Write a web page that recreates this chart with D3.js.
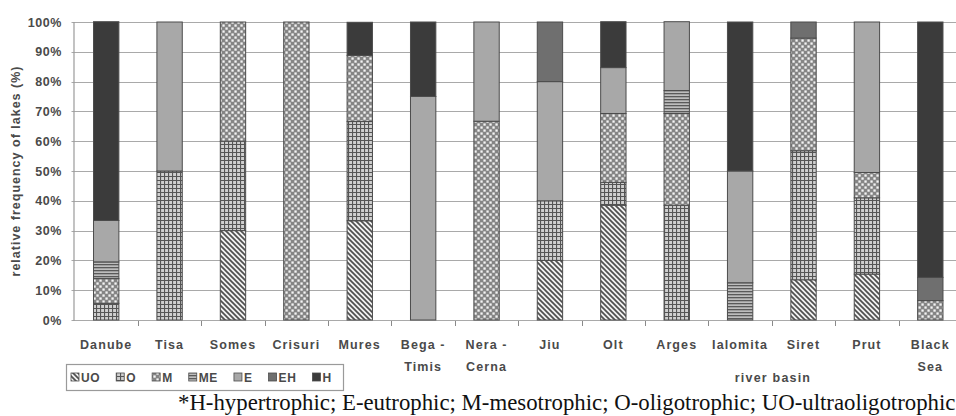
<!DOCTYPE html>
<html><head><meta charset="utf-8">
<script src="https://cdn.jsdelivr.net/npm/d3@7"></script>
<style>
html,body{margin:0;padding:0;background:#fff;}
svg{display:block;}
</style></head>
<body>
<svg id="chart" width="956" height="416"></svg>
<script>
const categories = ["Danube","Tisa","Somes","Crisuri","Mures","Bega -\nTimis","Nera -\nCerna","Jiu","Olt","Arges","Ialomita","Siret","Prut","Black\nSea"];
const classKeys = ["UO","O","M","ME","E","EH","H"];
const UO = [0,0,30,0,33.3,0,0,20,38.5,0,0,13.5,15.4,0];
const O  = [5.6,50,30,0,33.3,0,0,20,7.7,38.5,0,43.3,25.6,0];
const M  = [8.3,0,40,100,22.2,0,66.7,0,23.1,30.8,0,37.8,8.5,6.5];
const ME = [5.6,0,0,0,0,0,0,0,0,7.7,12.5,0,0,0];
const E  = [13.9,50,0,0,0,75,33.3,40,15.4,23.1,37.5,0,50.5,0];
const EH = [0,0,0,0,0,0,0,20,0,0,0,5.4,0,7.8];
const H  = [66.7,0,0,0,11.1,25,0,0,15.4,0,50,0,0,85.7];
const yTicks = [0,10,20,30,40,50,60,70,80,90,100];
const yTitle = "relative frequency of lakes (%)";
const xTitle = "river basin";
const footnote = "*H-hypertrophic; E-eutrophic; M-mesotrophic; O-oligotrophic; UO-ultraoligotrophic";

const seriesMap = {UO, O, M, ME, E, EH, H};
const rows = categories.map((c, i) => {
  const r = {cat: c};
  classKeys.forEach(k => r[k] = seriesMap[k][i]);
  return r;
});

const svg = d3.select("#chart");
const pL = 74.5, pR = 962, pT = 22, pB = 320;
const x = d3.scaleBand().domain(categories).range([pL, pR]).paddingInner(0.6).paddingOuter(0.3);
const y = d3.scaleLinear().domain([0, 100]).range([pB, pT]);

const textCol = "#4a4a4a";
const font = "'Liberation Sans', Arial, sans-serif";

// patterns
const defs = svg.append("defs");
const pUO = defs.append("pattern").attr("id","pUO").attr("patternUnits","userSpaceOnUse").attr("width",5).attr("height",5);
pUO.append("rect").attr("width",5).attr("height",5).attr("fill","#f2f2f2");
pUO.append("path").attr("d","M-1,-1 L6,6 M-1,4 L1,6 M4,-1 L6,1").attr("stroke","#505050").attr("stroke-width",1.7);
const pO = defs.append("pattern").attr("id","pO").attr("patternUnits","userSpaceOnUse").attr("width",4).attr("height",4);
pO.append("rect").attr("width",4).attr("height",4).attr("fill","#cfcfcf");
pO.append("path").attr("d","M0,0.5 H4 M0.5,0 V4").attr("stroke","#555").attr("stroke-width",1.2);
const pM = defs.append("pattern").attr("id","pM").attr("patternUnits","userSpaceOnUse").attr("width",6).attr("height",6);
pM.append("rect").attr("width",6).attr("height",6).attr("fill","#858585");
pM.append("rect").attr("x",0.4).attr("y",0.4).attr("width",2.3).attr("height",2.3).attr("fill","#f4f4f4");
pM.append("rect").attr("x",3.4).attr("y",3.4).attr("width",2.3).attr("height",2.3).attr("fill","#f4f4f4");
const pME = defs.append("pattern").attr("id","pME").attr("patternUnits","userSpaceOnUse").attr("width",4).attr("height",3);
pME.append("rect").attr("width",4).attr("height",3).attr("fill","#bdbdbd");
pME.append("rect").attr("y",0).attr("width",4).attr("height",1.3).attr("fill","#5a5a5a");

const fills = {UO:"url(#pUO)", O:"url(#pO)", M:"url(#pM)", ME:"url(#pME)", E:"#a8a8a8", EH:"#6f6f6f", H:"#3b3b3b"};

// gridlines
svg.append("g").selectAll("line").data(yTicks).join("line")
  .attr("x1", pL - 3).attr("x2", 956)
  .attr("y1", d => Math.round(y(d)) + 0.5).attr("y2", d => Math.round(y(d)) + 0.5)
  .attr("stroke", "#a9a9a9").attr("stroke-width", 1.2);

// y axis line
svg.append("line").attr("x1", pL - 0.5).attr("x2", pL - 0.5).attr("y1", pT).attr("y2", pB + 1)
  .attr("stroke", "#9a9a9a").attr("stroke-width", 1.2);

// y tick labels
svg.append("g").selectAll("text").data(yTicks).join("text")
  .attr("x", 62).attr("y", d => y(d) + 4.5)
  .attr("text-anchor", "end")
  .attr("font-family", font).attr("font-weight", "bold").attr("font-size", 12.5)
  .attr("letter-spacing", 0.6)
  .attr("fill", textCol)
  .text(d => d + "%");

// x ticks at band boundaries
const step = x.step();
svg.append("g").selectAll("line").data(categories.slice(1)).join("line")
  .attr("x1", c => Math.round(x(c) + x.bandwidth()/2 - step/2) + 0.5)
  .attr("x2", c => Math.round(x(c) + x.bandwidth()/2 - step/2) + 0.5)
  .attr("y1", pB + 1).attr("y2", pB + 6)
  .attr("stroke", "#8a8a8a").attr("stroke-width", 1);

// stacked bars
const stack = d3.stack().keys(classKeys)(rows);
const gBars = svg.append("g");
stack.forEach(layer => {
  gBars.append("g").selectAll("rect").data(layer.filter(d => d[1] - d[0] > 0)).join("rect")
    .attr("x", d => x(d.data.cat))
    .attr("width", x.bandwidth())
    .attr("y", d => y(d[1]))
    .attr("height", d => y(d[0]) - y(d[1]))
    .attr("fill", fills[layer.key])
    .attr("stroke", "#4c4c4c").attr("stroke-width", 1);
});

// category labels
const lbl = svg.append("g").selectAll("text").data(categories).join("text")
  .attr("text-anchor", "middle")
  .attr("font-family", font).attr("font-weight", "bold").attr("font-size", 12.5)
  .attr("letter-spacing", 1.1)
  .attr("fill", textCol);
lbl.each(function(c) {
  const t = d3.select(this);
  const cx = x(c) + x.bandwidth() / 2;
  c.split("\n").forEach((line, i) => {
    t.append("tspan").attr("x", cx).attr("y", 349 + i * 22).text(line);
  });
});

// axis titles
svg.append("text")
  .attr("transform", `translate(20,${(pT + pB) / 2}) rotate(-90)`)
  .attr("text-anchor", "middle")
  .attr("font-family", font).attr("font-weight", "bold").attr("font-size", 12.5)
  .attr("letter-spacing", 1)
  .attr("fill", textCol)
  .text(yTitle);

svg.append("text")
  .attr("x", 773).attr("y", 382)
  .attr("text-anchor", "middle")
  .attr("font-family", font).attr("font-weight", "bold").attr("font-size", 12.5)
  .attr("letter-spacing", 1.2)
  .attr("fill", textCol)
  .text(xTitle);

// legend
const lg = svg.append("g");
lg.append("rect").attr("x", 66.5).attr("y", 364.5).attr("width", 277).attr("height", 26)
  .attr("fill", "#fff").attr("stroke", "#9a9a9a").attr("stroke-width", 1.2);
let cursor = 71;
classKeys.forEach(k => {
  lg.append("rect").attr("x", cursor).attr("y", 373).attr("width", 8).attr("height", 8)
    .attr("fill", fills[k]).attr("stroke", "#4c4c4c").attr("stroke-width", 0.8);
  const t = lg.append("text").attr("x", cursor + 10).attr("y", 382)
    .attr("font-family", font).attr("font-weight", "bold").attr("font-size", 12)
    .attr("letter-spacing", 0.6)
    .attr("fill", textCol).text(k);
  cursor += 10 + t.node().getComputedTextLength() + 16;
});

// footnote
svg.append("text")
  .attr("x", 178).attr("y", 410)
  .attr("font-family", "'Liberation Serif', 'Times New Roman', serif")
  .attr("font-size", 22.8)
  .attr("fill", "#111")
  .text(footnote);
</script>
</body></html>
